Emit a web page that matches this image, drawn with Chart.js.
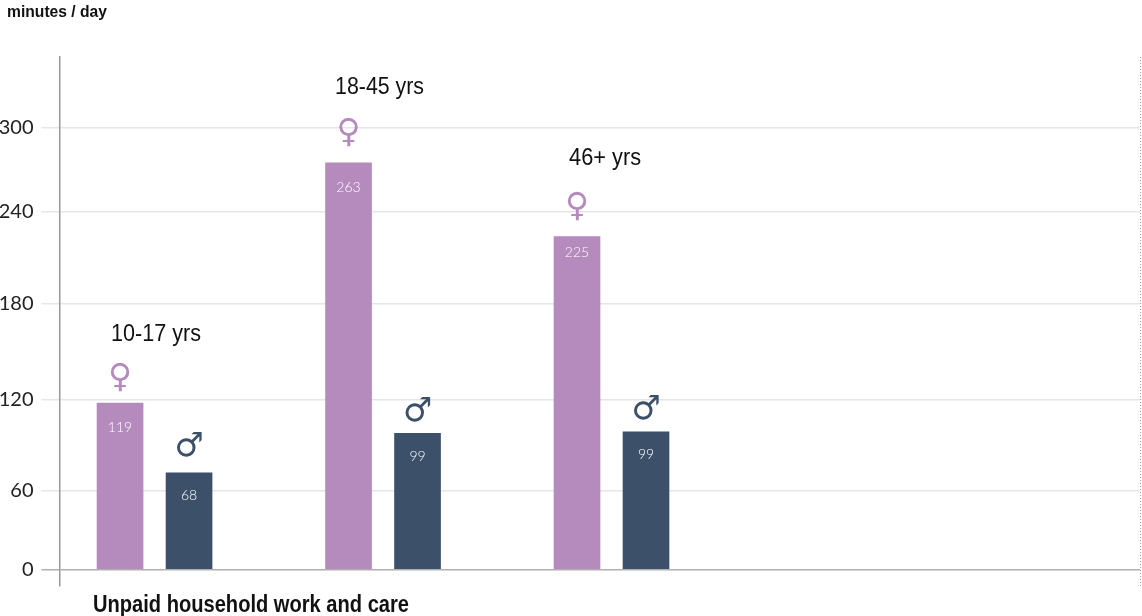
<!DOCTYPE html>
<html>
<head>
<meta charset="utf-8">
<style>
  html, body { margin: 0; padding: 0; background: #fff; }
  #wrap { position: relative; width: 1142px; height: 616px; }
</style>
<script src="https://cdn.jsdelivr.net/npm/chart.js@4/dist/chart.umd.js"></script>
</head>
<body>
<div id="wrap"><canvas id="chart"></canvas></div>
<script>
const ageGroups = ['10-17 yrs', '18-45 yrs', '46+ yrs'];
const groupIndex = [0, 1, 2];
// bar heights as drawn. they differ a bit from the printed numbers
const femaleValues = [118, 275, 224];
const maleValues = [72, 98, 99];
// numbers printed inside the bars
const femaleLabels = ['119', '263', '225'];
const maleLabels = ['68', '99', '99'];
const tickValues = [0, 60, 120, 180, 240, 300];

const FEMALE = '#b58abc';
const MALE = '#3c5069';
const HEAD = '"Liberation Sans", sans-serif';
const BODY = 'Lato, sans-serif';

// the reference axis isn't evenly spaced, so ticks get mapped through these
const axisValues = [-12, 0, 60, 120, 180, 240, 300, 348];
const axisDecimals = [0, 0.0312, 0.1796, 0.3516, 0.5331, 0.7070, 0.8667, 1];

class UnevenScale extends Chart.LinearScale {
    getPixelForValue(value) {
        let i = 0;
        while (i < axisValues.length - 2 && value > axisValues[i + 1]) i++;
        const t = (value - axisValues[i]) / (axisValues[i + 1] - axisValues[i]);
        return this.getPixelForDecimal(axisDecimals[i] + t * (axisDecimals[i + 1] - axisDecimals[i]));
    }
    getValueForPixel(pixel) {
        const d = this.getDecimalForPixel(pixel);
        let i = 0;
        while (i < axisDecimals.length - 2 && d > axisDecimals[i + 1]) i++;
        const t = (d - axisDecimals[i]) / (axisDecimals[i + 1] - axisDecimals[i]);
        return axisValues[i] + t * (axisValues[i + 1] - axisValues[i]);
    }
}
UnevenScale.id = 'uneven';
UnevenScale.defaults = Chart.LinearScale.defaults;
Chart.register(UnevenScale);

const barText = {
    id: 'barText',
    afterDatasetsDraw(chart) {
        const ctx = chart.ctx;
        const area = chart.chartArea;
        const female = chart.getDatasetMeta(0).data;
        const male = chart.getDatasetMeta(1).data;
        ctx.save();

        // dotted line closing the plot on the right
        ctx.strokeStyle = '#999';
        ctx.lineWidth = 1;
        ctx.setLineDash([1, 2]);
        ctx.beginPath();
        ctx.moveTo(area.right + 0.5, area.top);
        ctx.lineTo(area.right + 0.5, area.bottom);
        ctx.stroke();
        ctx.setLineDash([]);

        ctx.textAlign = 'center';
        ctx.textBaseline = 'middle';

        groupIndex.forEach(i => {
            // numbers inside the bars
            ctx.font = '300 14px ' + BODY;
            ctx.fillStyle = '#fff';
            ctx.fillText(femaleLabels[i], female[i].x, female[i].y + [24, 25, 16][i]);
            ctx.fillText(maleLabels[i], male[i].x, male[i].y + 23);

            // sex symbols
            ctx.font = '33px "DejaVu Sans"';
            ctx.fillStyle = FEMALE;
            ctx.fillText('\u2640', female[i].x, female[i].y - [25, 29, 29][i]);
            ctx.fillStyle = MALE;
            ctx.fillText('\u2642', male[i].x, male[i].y - [25, 21, 21][i]);

            // age group, squeezed to the narrow width of the original lettering
            ctx.font = '23px ' + HEAD;
            ctx.fillStyle = '#111';
            ctx.fillText(ageGroups[i], female[i].x + [36, 31, 28][i], female[i].y - [68, 75, 78][i], [90, 89, 72][i]);
        });

        ctx.textAlign = 'left';
        ctx.fillStyle = '#111';
        ctx.font = 'bold 16px ' + HEAD;
        ctx.fillText('minutes / day', 7, 13, 100);
        ctx.font = 'bold 23px ' + HEAD;
        ctx.fillText('Unpaid household work and care', 93, 606, 316);
        ctx.restore();
    }
};

new Chart(document.getElementById('chart').getContext('2d'), {
    type: 'bar',
    data: {
        datasets: [
            { label: 'Female', data: groupIndex.map(i => ({ x: i, y: femaleValues[i] })), backgroundColor: FEMALE },
            { label: 'Male', data: groupIndex.map(i => ({ x: i, y: maleValues[i] })), backgroundColor: MALE }
        ]
    },
    options: {
        responsive: true,
        maintainAspectRatio: false,
        animation: false,
        layout: { padding: { top: 57, bottom: 30, right: 2, left: 0 } },
        datasets: { bar: { barThickness: 69, maxBarThickness: 46 } },
        scales: {
            x: {
                type: 'linear',
                display: false,
                offset: false,
                min: -0.416,
                max: 4.313,
                grid: { display: false }
            },
            y: {
                type: 'uneven',
                min: -12,
                max: 348,
                afterBuildTicks: scale => { scale.ticks = tickValues.map(value => ({ value })); },
                afterFit: scale => { scale.width = 59.5; },
                ticks: {
                    color: '#222',
                    padding: 8,
                    font: { family: 'Lato', size: 20 },
                    callback: value => value
                },
                border: { color: '#999', width: 1.5 },
                grid: {
                    color: ctx => ctx.tick.value === 0 ? '#b0b0b0' : '#e6e6e6',
                    lineWidth: 1.5,
                    tickLength: 18,
                    z: 0
                }
            }
        },
        plugins: { legend: { display: false }, tooltip: { enabled: false } }
    },
    plugins: [barText]
});
</script>
</body>
</html>
